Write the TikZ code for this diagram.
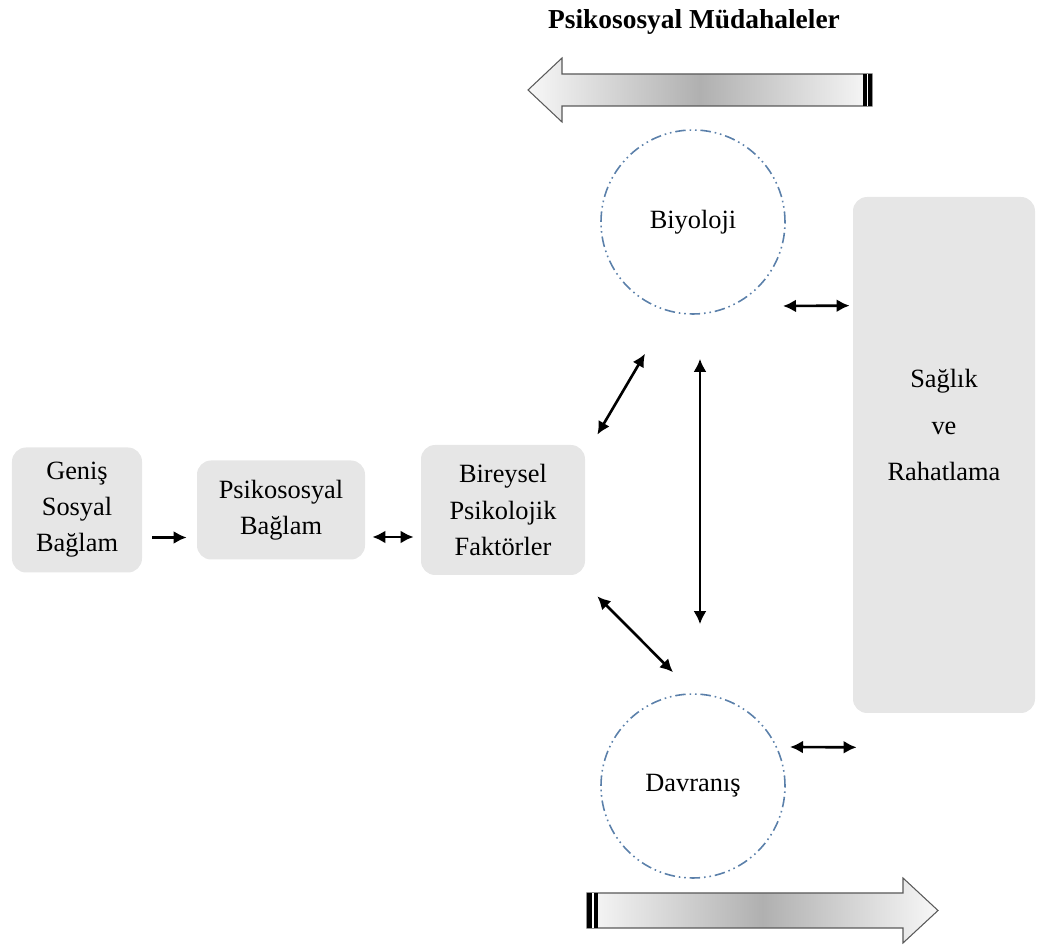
\documentclass[tikz,border=0pt]{standalone}
\usepackage{fontspec}
\setmainfont{Liberation Serif}
\usetikzlibrary{arrows.meta, calc}
\definecolor{boxgray}{RGB}{230,230,230}
\definecolor{ringblue}{RGB}{91,128,170}

\begin{document}
\begin{tikzpicture}[
    font=\fontsize{15}{20.5}\selectfont,
    box/.style={fill=boxgray, rounded corners=8pt, align=center, inner sep=0pt},
    ring/.style={circle, draw=ringblue, line width=0.9pt, dash pattern=on 6pt off 2.2pt on 0.9pt off 2.2pt on 0.9pt off 2.2pt, minimum size=3.68cm, inner sep=0pt},
    oneway/.style={-{Latex[length=2.6mm,width=2.6mm]}, line width=1.5pt},
    twoway/.style={{Latex[length=2.6mm,width=2.6mm]}-{Latex[length=2.6mm,width=2.6mm]}, line width=1.5pt},
    bigarrow/.style={draw=black!65, line width=0.6pt, left color=gray!6, right color=gray!6, middle color=gray!62}
]
    \useasboundingbox (0,0) rectangle (20.74,-18.92);

    % Title and intervention arrows
    \node[font=\fontsize{15.6}{18}\selectfont\bfseries] (title) at (13.88,-0.44) {Psikososyal Müdahaleler};
    \draw[bigarrow] (10.56,-1.8) -- (11.24,-1.16) -- (11.24,-1.48) -- (17.44,-1.48)
        -- (17.44,-2.12) -- (11.24,-2.12) -- (11.24,-2.44) -- cycle;
    \fill[black] (17.26,-1.48) rectangle (17.44,-2.12);
    \draw[white, line width=0.6pt] (17.35,-1.48) -- (17.35,-2.12);
    \draw[bigarrow] (18.76,-18.21) -- (18.06,-17.56) -- (18.06,-17.86) -- (11.74,-17.86)
        -- (11.74,-18.56) -- (18.06,-18.56) -- (18.06,-18.86) -- cycle;
    \fill[black] (11.74,-17.86) rectangle (11.96,-18.56);
    \draw[white, line width=0.6pt] (11.86,-17.86) -- (11.86,-18.56);

    % Left chain
    \node[box, minimum width=2.6cm, minimum height=2.5cm] (gen) at (1.54,-10.2) {Geniş\\Sosyal\\Bağlam};
    \node[box, minimum width=3.36cm, minimum height=1.98cm] (psy) at (5.62,-10.2) {Psikososyal\\Bağlam};
    \node[box, minimum width=3.28cm, minimum height=2.6cm] (bir) at (10.06,-10.2) {Bireysel\\Psikolojik\\Faktörler};

    % Circles and outcome
    \node[ring] (bio) at (13.86,-4.44) {Biyoloji};
    \node[ring] (dav) at (13.86,-15.72) {Davranış};
    \node[box, minimum width=3.64cm, minimum height=10.32cm] (sag) at (18.88,-9.1) {};
    \node[align=center, font=\fontsize{15}{26.7}\selectfont] (sagtext) at ([yshift=0.6cm]sag.center) {Sağlık\\ve\\Rahatlama};

    % Links
    \draw[oneway] ([shift={(0.2,-0.55)}]gen.east) -- ([shift={(-0.2,-0.55)}]psy.west);
    \draw[twoway] ([shift={(0.14,-0.54)}]psy.east) -- ([shift={(-0.14,-0.54)}]bir.west);
    \draw[twoway] ([shift={(0.24,0.2)}]bir.north east) -- ([shift={(-0.96,-0.78)}]bio.south);
    \draw[twoway] ([shift={(0.14,-0.88)}]bio.south) -- ([shift={(0.14,1.38)}]dav.north);
    \draw[twoway] ([shift={(0.24,-0.42)}]bir.south east) -- ([shift={(-0.4,0.42)}]dav.north);
    \draw[twoway] ([shift={(1.8,-1.68)}]bio.center) -- ([shift={(-0.06,-2.18)}]sag.north west);
    \draw[twoway] ([shift={(1.94,0.78)}]dav.center) -- ([shift={(0.08,-0.68)}]sag.south west);
\end{tikzpicture}
\end{document}
